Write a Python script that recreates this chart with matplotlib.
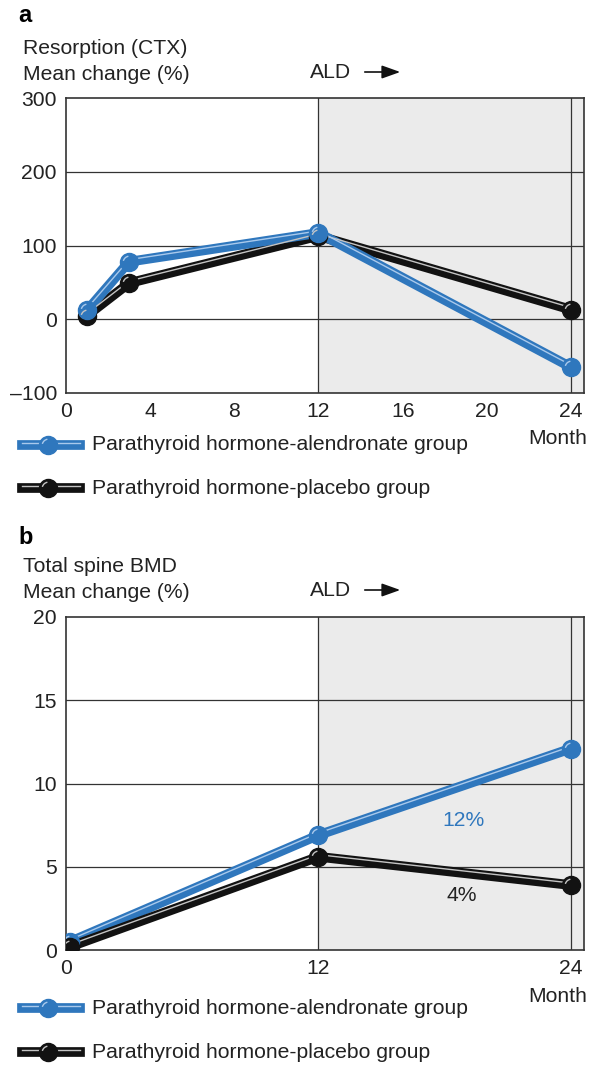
import matplotlib
matplotlib.use("Agg")
import matplotlib.pyplot as plt
import matplotlib.transforms as mtransforms
from matplotlib.lines import Line2D
from matplotlib.patches import FancyArrowPatch
from matplotlib.path import Path

plt.rcParams['font.family'] = ['Liberation Sans', 'DejaVu Sans']

# ---- data ----
months_a = [1, 3, 12, 24]
ctx_ald = [12, 78, 117, -65]
ctx_plc = [5, 49, 113, 13]
yticks_a = [-100, 0, 100, 200, 300]
xticks_a = [0, 4, 8, 12, 16, 20, 24]

months_b = [0.2, 12, 24]
bmd_ald = [0.5, 6.9, 12.1]
bmd_plc = [0.2, 5.6, 3.9]
yticks_b = [0, 5, 10, 15, 20]
xticks_b = [0, 12, 24]

label_ald = "Parathyroid hormone-alendronate group"
label_plc = "Parathyroid hormone-placebo group"

BLUE = "#2f77bd"
BLUE_HI = "#a9c9ec"
BLACK = "#121212"
BLACK_HI = "#c4c4c4"
GRAY = "#ebebeb"
EDGE = "#333333"
TXT = "#222222"
FS = 15.2
LW = 7.0
HLW = 1.0
HOFF = 1.5

W, H = 598, 1065
fig = plt.figure(figsize=(W / 100, H / 100), dpi=100)

ARC = Path.arc(100, 165)


def fx(px):
    return px / W


def fy(py):
    return 1 - py / H


def draw_series(ax, x, y, color, hi):
    ax.plot(x, y, color=color, lw=LW, solid_capstyle='round', solid_joinstyle='round', zorder=4)
    off = mtransforms.offset_copy(ax.transData, fig=fig, x=0, y=HOFF, units='points')
    ax.plot(x, y, color=hi, lw=HLW, transform=off, zorder=5)
    ax.plot(x, y, ls='none', marker='o', ms=13, color=color, mec=color, zorder=6)
    ax.plot(x, y, ls='none', marker=ARC, ms=9, mfc='none', mec=hi, mew=1.0, zorder=7)


def setup(ax, ylim, yticks, xticks):
    ax.set_xlim(0, 24.62)
    ax.set_ylim(*ylim)
    ax.axvspan(12, 24.62, color=GRAY, zorder=0, lw=0)
    for yt in yticks[1:-1]:
        ax.axhline(yt, color=EDGE, lw=0.9, zorder=1)
    ax.axvline(12, color=EDGE, lw=0.9, zorder=1)
    ax.axvline(24, color=EDGE, lw=0.9, zorder=1)
    ax.set_yticks(yticks)
    ax.set_yticklabels(["\u2013" + str(-t) if t < 0 else str(t) for t in yticks])
    ax.set_xticks(xticks)
    ax.tick_params(length=0, labelsize=FS, pad=6.5, colors=TXT)
    for s in ax.spines.values():
        s.set_color(EDGE)
        s.set_linewidth(1.2)


def legend(y1, y2):
    for yy, color, hi, lab in [(y1, BLUE, BLUE_HI, label_ald), (y2, BLACK, BLACK_HI, label_plc)]:
        fig.add_artist(Line2D([fx(22), fx(80)], [fy(yy), fy(yy)], color=color, lw=LW,
                              transform=fig.transFigure))
        fig.add_artist(Line2D([fx(22), fx(80)], [fy(yy - 2.0), fy(yy - 2.0)], color=hi, lw=HLW,
                              transform=fig.transFigure))
        fig.add_artist(Line2D([fx(48)], [fy(yy)], marker='o', ms=13, color=color,
                              transform=fig.transFigure))
        fig.add_artist(Line2D([fx(48)], [fy(yy)], marker=ARC, ms=9, mfc='none', mec=hi,
                              mew=1.0, transform=fig.transFigure))
        fig.text(fx(92), fy(yy), lab, fontsize=FS, va='center', ha='left', color=TXT)


def ald(yy):
    fig.text(fx(310), fy(yy), "ALD", fontsize=FS, va='center', ha='left', color=TXT)
    arr = FancyArrowPatch((fx(362), fy(yy)), (fx(403), fy(yy)), transform=fig.transFigure,
                          arrowstyle='-|>,head_length=0.7,head_width=0.25', mutation_scale=16,
                          color='#111111', lw=1.2)
    fig.add_artist(arr)


# ---- panel a ----
axa = fig.add_axes([fx(66), fy(393), fx(584) - fx(66), fy(98) - fy(393)])
setup(axa, (-100, 300), yticks_a, xticks_a)
draw_series(axa, months_a, ctx_plc, BLACK, BLACK_HI)
draw_series(axa, months_a, ctx_ald, BLUE, BLUE_HI)
fig.text(fx(18), fy(16), "a", fontsize=17, fontweight='bold', va='center', ha='left')
fig.text(fx(23), fy(48), "Resorption (CTX)", fontsize=FS, va='center', ha='left', color=TXT)
fig.text(fx(23), fy(74), "Mean change (%)", fontsize=FS, va='center', ha='left', color=TXT)
fig.text(fx(558), fy(438), "Month", fontsize=FS, va='center', ha='center', color=TXT)
ald(72)
legend(445, 488)

# ---- panel b ----
axb = fig.add_axes([fx(66), fy(950), fx(584) - fx(66), fy(617) - fy(950)])
setup(axb, (0, 20), yticks_b, xticks_b)
draw_series(axb, months_b, bmd_ald, BLUE, BLUE_HI)
draw_series(axb, months_b, bmd_plc, BLACK, BLACK_HI)
axb.text(18.9, 7.8, "12%", color=BLUE, fontsize=FS, ha='center', va='center')
axb.text(18.8, 3.3, "4%", color=TXT, fontsize=FS, ha='center', va='center')
fig.text(fx(18), fy(538), "b", fontsize=17, fontweight='bold', va='center', ha='left')
fig.text(fx(23), fy(567), "Total spine BMD", fontsize=FS, va='center', ha='left', color=TXT)
fig.text(fx(23), fy(593), "Mean change (%)", fontsize=FS, va='center', ha='left', color=TXT)
fig.text(fx(558), fy(997), "Month", fontsize=FS, va='center', ha='center', color=TXT)
ald(590)
legend(1008, 1052)

fig.savefig("out.png", dpi=100)
